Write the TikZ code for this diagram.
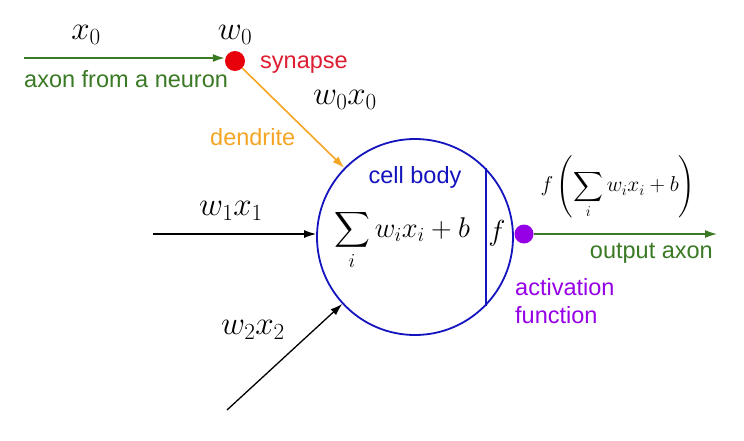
\RequirePackage{fix-cm}
\documentclass[tikz,border=0pt]{standalone}
\usepackage{amsmath}
\usepackage{fontspec}
\setmainfont{Liberation Sans}
\usetikzlibrary{arrows.meta}
\definecolor{axgreen}{RGB}{58,122,36}
\definecolor{dorange}{RGB}{245,165,35}
\definecolor{synred}{RGB}{232,0,10}
\definecolor{synlabel}{RGB}{222,30,50}
\definecolor{cellblue}{RGB}{20,20,190}
\definecolor{actpurple}{RGB}{150,0,230}
\begin{document}
\begin{tikzpicture}[x=1pt,y=-1pt,
  lbl/.style={inner sep=0pt,font=\fontsize{23.5}{28}\selectfont},
  mlbl/.style={inner sep=0pt,font=\fontsize{33}{38}\selectfont},
  tip/.style={-{Latex[length=12pt,width=8pt]}},
  dot/.style={circle,inner sep=0pt,minimum size=#1}]
\useasboundingbox (0,0) rectangle (744,441);
\fill[white] (0,0) rectangle (744,441);

% cell body
\node[circle,draw=cellblue,line width=1.8pt,minimum size=196pt,inner sep=0pt] (cell) at (415,237) {};
\draw[cellblue,line width=1.6pt] (cell.44.4) -- (cell.-44.4);
\node[lbl,text=cellblue,anchor=base] (cb) at (415,183) {cell body};
\node[inner sep=0pt,font=\fontsize{28.5}{33}\selectfont] (sum) at (402,240) {$\displaystyle\sum_i w_i x_i + b$};
\node[inner sep=0pt,font=\fontsize{29}{33}\selectfont] (fin) at (497,233) {$f$};

% synapse & input axon
\node[dot=20pt,fill=synred] (syn) at (235,61) {};
\coordinate (a0) at (24,58);
\draw[axgreen,line width=1.8pt,tip] (a0) -- (a0 -| syn.west);
\node[mlbl] (x0) at (86,35) {$x_0$};
\node[mlbl] (w0) at (235,35) {$w_0$};
\node[lbl,text=synlabel,anchor=base west] (synl) at (260,69) {synapse};
\node[lbl,text=axgreen,anchor=base west] (axl) at (24,88) {axon from a neuron};

% dendrite
\draw[dorange,line width=1.6pt,tip] (syn) -- (cell);
\node[mlbl] (w0x0) at (345,100) {$w_0x_0$};
\node[lbl,text=dorange,anchor=base west] (dl) at (210,146) {dendrite};

% other inputs
\coordinate (a1) at (153,234);
\draw[black,line width=1.3pt,tip] (a1) -- (a1 -| cell.west);
\node[mlbl] (w1x1) at (231,211) {$w_1x_1$};
\coordinate (a2) at (227,410);
\draw[black,line width=1.3pt,tip] (a2) -- (cell);
\node[mlbl] (w2x2) at (253,330) {$w_2x_2$};

% output
\node[dot=19pt,fill=actpurple] (act) at (524,234) {};
\coordinate (o) at (717,234);
\draw[axgreen,line width=1.5pt,tip] (act) -- (o);
\node[inner sep=0pt,font=\fontsize{21.5}{26}\selectfont] (fout) at (618,187) {$\displaystyle f\left(\sum_i w_i x_i + b\right)$};
\node[lbl,text=axgreen,anchor=base east] (ol) at (713,258) {output axon};
\node[lbl,text=actpurple,anchor=base west] (al1) at (515,295) {activation};
\node[lbl,text=actpurple,anchor=base west] (al2) at (515,323) {function};
\end{tikzpicture}
\end{document}
